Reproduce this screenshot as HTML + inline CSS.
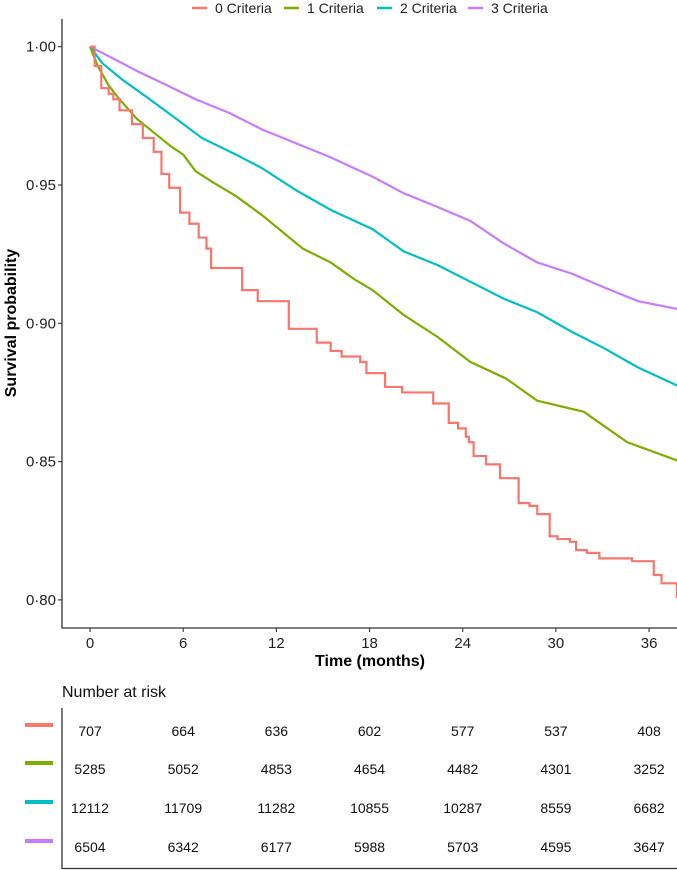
<!DOCTYPE html>
<html><head><meta charset="utf-8">
<style>
html,body{margin:0;padding:0;background:#fff;}
svg{display:block;font-family:"Liberation Sans",Arial,sans-serif;}
</style></head>
<body>
<svg id="chart" width="677" height="870" viewBox="0 0 677 870" xmlns="http://www.w3.org/2000/svg">
  <defs><clipPath id="plotclip"><rect x="62" y="0" width="615" height="628"/></clipPath></defs>
  <g id="legend"></g>
  <g id="axes"></g>
  <g id="series" clip-path="url(#plotclip)"></g>
  <g id="risk"></g>
</svg>
<script>
const seriesNames = ["0 Criteria","1 Criteria","2 Criteria","3 Criteria"];
const seriesColors = ["#F8766D","#7CAE00","#00BFC4","#C77CFF"];
const xTicks = [0,6,12,18,24,30,36];
const yTicks = [0.80,0.85,0.90,0.95,1.00];
const yTickLabels = ["0·80","0·85","0·90","0·95","1·00"];

const redTime = [0,0.3,0.73,1.2,1.5,1.9,2.7,3.4,4.1,4.6,5.1,5.8,6.4,7.0,7.5,7.8,9.4,9.8,10.8,12.3,12.8,14.2,14.6,15.5,16.2,17.4,17.8,19,20.1,22.1,23.1,23.7,24.2,24.4,24.7,25.5,26.4,27.6,28.3,28.8,29.6,30.1,30.9,31.3,32.0,32.8,34.9,36.3,36.8,37.8];
const redSurv = [1,0.993,0.985,0.983,0.981,0.977,0.972,0.967,0.962,0.954,0.949,0.940,0.936,0.931,0.927,0.920,0.920,0.912,0.908,0.908,0.898,0.898,0.893,0.890,0.888,0.886,0.882,0.877,0.875,0.871,0.864,0.862,0.859,0.857,0.852,0.849,0.844,0.835,0.834,0.831,0.823,0.822,0.821,0.818,0.817,0.815,0.814,0.809,0.806,0.801];
const greenTime = [0,0.5,1.2,1.9,3.0,4.1,5.2,6.0,6.8,7.9,9.4,11.1,12.4,13.7,15.5,17.0,18.2,20.2,22.4,24.5,26.8,28.8,31.8,34.6,38];
const greenSurv = [1,0.993,0.986,0.981,0.974,0.969,0.964,0.961,0.955,0.951,0.946,0.939,0.933,0.927,0.922,0.916,0.912,0.903,0.895,0.886,0.880,0.872,0.868,0.857,0.850];
const tealTime = [0,0.8,2.1,3.6,5.3,7.2,9.4,11.1,13.3,15.5,18.2,20.2,22.4,24.5,26.6,28.8,31,33.1,35.3,38];
const tealSurv = [1,0.994,0.988,0.982,0.975,0.967,0.961,0.956,0.948,0.941,0.934,0.926,0.921,0.915,0.909,0.904,0.897,0.891,0.884,0.877];
const purpleTime = [0,1.4,3.1,4.6,6.8,9.0,11.1,13.3,15.5,18.2,20.2,22.4,24.5,26.6,28.8,31,33.1,35.3,38];
const purpleSurv = [1,0.996,0.991,0.987,0.981,0.976,0.970,0.965,0.960,0.953,0.947,0.942,0.937,0.929,0.922,0.918,0.913,0.908,0.905];

const riskRed = [707,664,636,602,577,537,408];
const riskGreen = [5285,5052,4853,4654,4482,4301,3252];
const riskTeal = [12112,11709,11282,10855,10287,8559,6682];
const riskPurple = [6504,6342,6177,5988,5703,4595,3647];

const NS="http://www.w3.org/2000/svg";
function xScale(m){return 90 + m*15.53;}
function yScale(s){return 46.7 + (1-s)*2766;}
function mk(tag,attrs,parent,text){const e=document.createElementNS(NS,tag);for(const k in attrs)e.setAttribute(k,attrs[k]);if(text!==undefined)e.textContent=text;parent.appendChild(e);return e;}

const axes=document.getElementById('axes');
let yl=mk('line',{x1:62,y1:19,x2:62,y2:628,stroke:'#333',"stroke-width":1.3},axes);


let xl=mk('line',{x1:61.4,y1:628,x2:677,y2:628,stroke:'#333',"stroke-width":1.3},axes);


yTicks.forEach((v,i)=>{
  const y=yScale(v);
  mk('line',{x1:58,y1:y,x2:62,y2:y,stroke:'#333',"stroke-width":1.1},axes);
  const t=mk('text',{x:56,y:y+5,"text-anchor":"end","font-size":15,fill:'#222'},axes,yTickLabels[i]);
  
  
});
xTicks.forEach(v=>{
  const x=xScale(v);
  mk('line',{x1:x,y1:628,x2:x,y2:632,stroke:'#333',"stroke-width":1.1},axes);
  const t=mk('text',{x:x,y:648,"text-anchor":"middle","font-size":15,fill:'#222'},axes,String(v));
  
  
});
let xt=mk('text',{x:370,y:666,"text-anchor":"middle","font-size":16,"font-weight":"bold",fill:'#000'},axes,'Time (months)');


let yt=mk('text',{x:0,y:0,transform:'translate(16,323) rotate(-90)',"text-anchor":"middle","font-size":16,"font-weight":"bold",fill:'#000'},axes,'Survival probability');



const leg=document.getElementById('legend');
const legX=[192,284,377,468];
seriesNames.forEach((n,i)=>{
  const g=mk('g',{},leg);
  
  
  mk('line',{x1:legX[i],y1:8,x2:legX[i]+15,y2:8,stroke:seriesColors[i],"stroke-width":2.5},g);
  mk('text',{x:legX[i]+23,y:13,"font-size":14,fill:'#222'},g,n);
});

const ser=document.getElementById('series');
const allT=[redTime,greenTime,tealTime,purpleTime];
const allS=[redSurv,greenSurv,tealSurv,purpleSurv];
const seriesIds=['curve-0-criteria','curve-1-criteria','curve-2-criteria','curve-3-criteria'];
[3,2,1,0].forEach(i=>{
  const T=allT[i],S=allS[i];
  let d='M'+xScale(T[0])+','+yScale(S[0]);
  for(let k=1;k<T.length;k++){
    if(i===0){d+=' H'+xScale(T[k])+' V'+yScale(S[k]);}
    else{d+=' L'+xScale(T[k])+','+yScale(S[k]);}
  }
  if(i===0) d+=' H'+xScale(38);
  const p=mk('path',{d:d,fill:'none',stroke:seriesColors[i],"stroke-width":2.2,"stroke-linejoin":"miter"},ser);
  
  
});

const risk=document.getElementById('risk');
let rt=mk('text',{x:62,y:697,"font-size":16,fill:'#111'},risk,'Number at risk');


mk('line',{x1:62,y1:708,x2:62,y2:869,stroke:'#333',"stroke-width":1.3},risk);
mk('line',{x1:61.4,y1:868.5,x2:677,y2:868.5,stroke:'#333',"stroke-width":1.3},risk);
const riskRows=[riskRed,riskGreen,riskTeal,riskPurple];
const rowY=[731,769,808,847];
riskRows.forEach((row,i)=>{
  const sw=mk('line',{x1:25,y1:rowY[i]-6,x2:53,y2:rowY[i]-6,stroke:seriesColors[i],"stroke-width":4},risk);
  
  
  row.forEach((v,j)=>{
    const t=mk('text',{x:xScale(xTicks[j]),y:rowY[i]+5,"text-anchor":"middle","font-size":14,fill:'#111'},risk,String(v));
    
    
  });
});
</script>
</body></html>
